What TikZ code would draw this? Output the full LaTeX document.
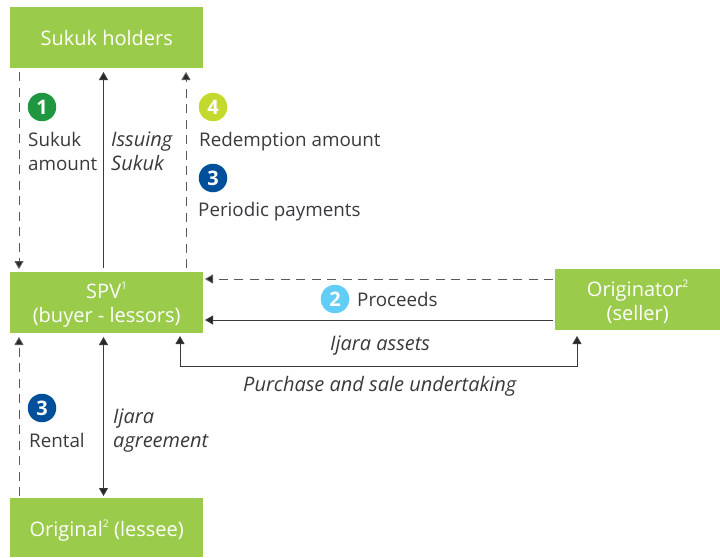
\documentclass[tikz,border=0pt]{standalone}
\usepackage{fontspec}
\setmainfont{Open Sans}
\usetikzlibrary{arrows.meta}
\definecolor{boxgreen}{HTML}{9BCB4A}
\definecolor{inkgray}{HTML}{3A3A3C}
\definecolor{bone}{HTML}{1F9640}
\definecolor{bfour}{HTML}{C4D92E}
\definecolor{bthree}{HTML}{004F9B}
\definecolor{btwo}{HTML}{62CDF5}
\newcommand{\supr}[1]{\raisebox{0.45em}{\fontsize{10.5}{10.5}\selectfont #1}}
\tikzset{
  x=1pt,y=-1pt,
  greenbox/.style={fill=boxgreen,text=white,inner sep=0,align=center,text depth=0pt,font=\fontsize{20}{24}\selectfont,anchor=north west},
  lbl/.style={text=inkgray,inner sep=0,align=left,anchor=west,font=\fontsize{18.8}{24}\selectfont},
  ilbl/.style={lbl,font=\fontsize{20}{24}\selectfont\itshape},
  badge/.style={circle,minimum size=28.5pt,inner sep=0,text=white,font=\fontsize{20}{20}\selectfont\bfseries},
  conn/.style={draw=inkgray,line width=1pt,-{Triangle[length=8pt,width=9pt,fill=black!85]}},
  dashconn/.style={conn,draw=inkgray!85,dash pattern=on 9pt off 6.5pt},
  twoway/.style={draw=inkgray,line width=1pt,{Triangle[length=8pt,width=9pt,fill=black!85]}-{Triangle[length=8pt,width=9pt,fill=black!85]}}
}
\begin{document}
\begin{tikzpicture}
\useasboundingbox (0,0) rectangle (720,557);
\node[greenbox,minimum width=193pt,minimum height=61pt] (holders) at (10,7) {Sukuk holders};
\node[greenbox,minimum width=193pt,minimum height=61pt] (spv) at (10,272) {SPV\supr{1}\\(buyer - lessors)};
\node[greenbox,minimum width=193pt,minimum height=59pt] (lessee) at (10,498) {Original\supr{2} (lessee)};
\node[greenbox,minimum width=165pt,minimum height=61pt] (originator) at (555,269) {Originator\supr{2}\\(seller)};
% anchors beside the boxes
\coordinate (hA) at (19,72); \coordinate (hB) at (103.5,72); \coordinate (hC) at (186,72);
\coordinate (sA) at (19,269); \coordinate (sB) at (103.5,268); \coordinate (sC) at (186,268);
\coordinate (sD) at (19,337); \coordinate (sE) at (103.5,337);
\coordinate (lA) at (19,496); \coordinate (lB) at (103.5,496);
\coordinate (sF) at (205,279); \coordinate (oF) at (553,279);
\coordinate (sG) at (205,320); \coordinate (oG) at (553,320);
\coordinate (sH) at (180,336); \coordinate (oH) at (577,336);
\draw[dashconn] (hA) -- (sA);
\draw[conn] (sB) -- (hB);
\draw[dashconn] (sC) -- (hC);
\draw[dashconn] (oF) -- (sF);
\draw[conn] (oG) -- (sG);
\draw[twoway] (sH) |- (oH |- 0,366) -- (oH);
\draw[dashconn] (lA) -- (sD);
\draw[twoway] (sE) -- (lB);
\node[badge,fill=bone] (b1) at (42,107) {1};
\node[badge,fill=bfour] (b4) at (213,107) {4};
\node[badge,fill=bthree] (b3a) at (213,178) {3};
\node[badge,fill=btwo] (b2) at (335,299) {2};
\node[badge,fill=bthree] (b3b) at (42,408) {3};
\node[lbl,text width=80pt] (t1) at (28,151) {Sukuk\\amount};
\node[ilbl,text width=70pt] (t2) at (111,151) {Issuing\\Sukuk};
\node[lbl] (t3) at (199,141.5) {Redemption amount};
\node[lbl] (t4) at (198,211.5) {Periodic payments};
\node[lbl] (t5) at (357,299) {Proceeds};
\node[ilbl] (t6) at (330,345.5) {Ijara assets};
\node[ilbl] (t7) at (243,386) {Purchase and sale undertaking};
\node[lbl] (t8) at (29,440) {Rental};
\node[ilbl,text width=110pt] (t9) at (113,431) {Ijara\\agreement};
\end{tikzpicture}
\end{document}
